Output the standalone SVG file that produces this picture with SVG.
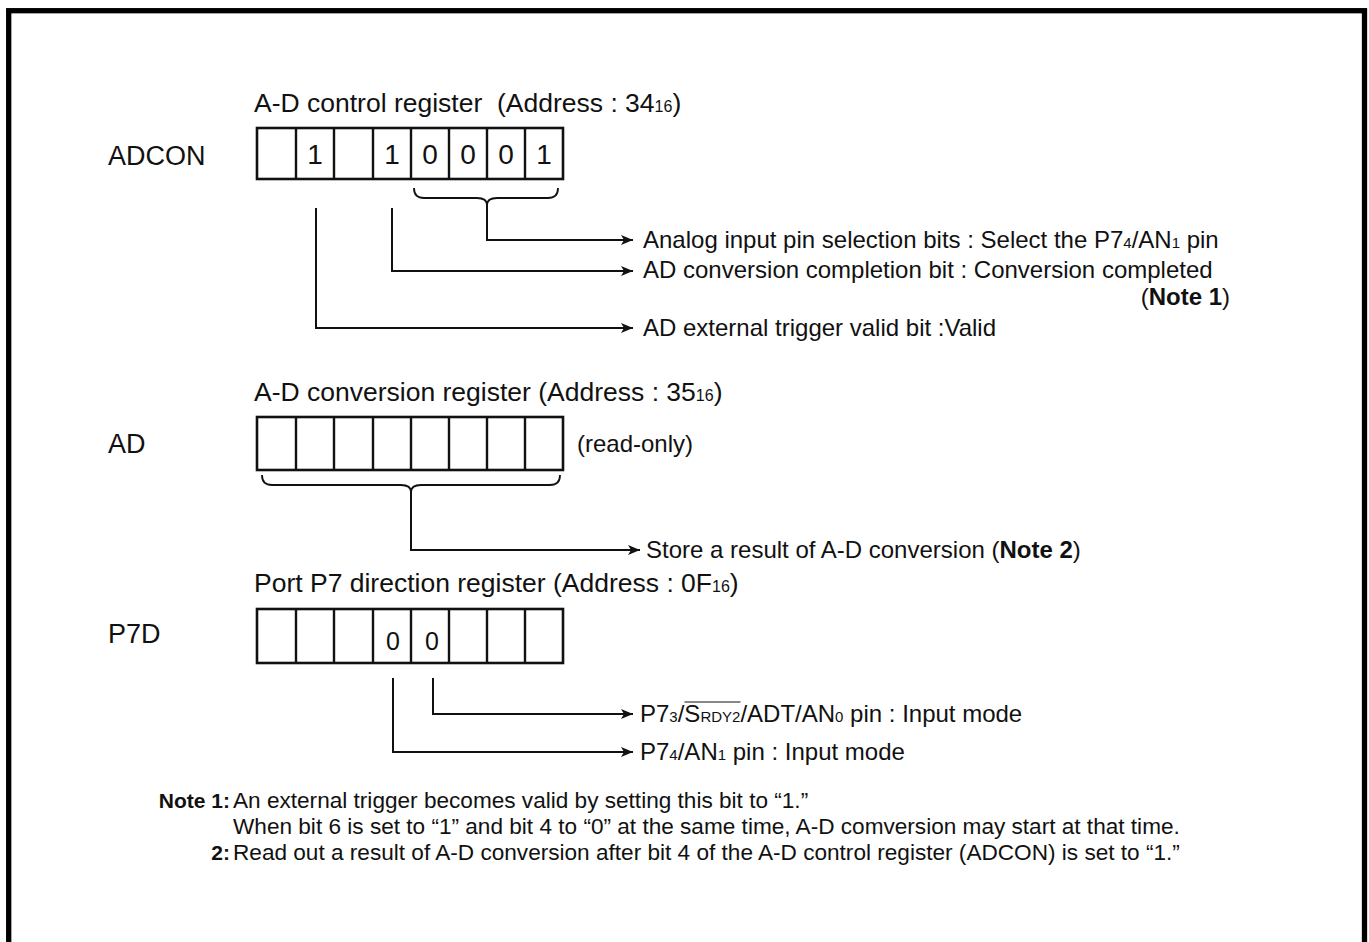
<svg xmlns="http://www.w3.org/2000/svg" width="1369" height="942" viewBox="0 0 1369 942">
<defs>
<style>
text{font-family:"Liberation Sans",Arial,sans-serif;fill:#111;}
.ttl{font-size:26.5px;}
.reg{font-size:27px;}
.lbl{font-size:24px;}
.sub{font-size:15px;}
.tsub{font-size:16px;}
.dig{font-size:28px;text-anchor:middle;}
.dig2{font-size:25px;text-anchor:middle;}
.note{font-size:22.6px;}
.nb{font-size:21px;font-weight:bold;}
.b{font-weight:bold;}
.cell{fill:#fff;stroke:#111;stroke-width:2.6;}
.div{stroke:#111;stroke-width:2.4;}
.con{fill:none;stroke:#111;stroke-width:2;}
.brace{fill:none;stroke:#111;stroke-width:1.8;}
</style>
<marker id="arr" markerUnits="userSpaceOnUse" markerWidth="13" markerHeight="11" refX="12" refY="5" orient="auto">
<path d="M0,0 L12,5 L0,10 L3,5 z" fill="#111"/>
</marker>
</defs>
<rect x="0" y="0" width="1369" height="942" fill="#fff"/>
<rect x="8.7" y="10.7" width="1355.8" height="1000" fill="none" stroke="#000" stroke-width="5.3"/>

<g id="adcon">
<text class="ttl" x="254" y="112" xml:space="preserve">A-D control register  (Address : 34<tspan class="tsub">16</tspan>)</text>
<text class="reg" x="108" y="165">ADCON</text>
<rect class="cell" x="257" y="128" width="306" height="51"/>
<path class="div" d="M296,128V179M334,128V179M373,128V179M411,128V179M449,128V179M487,128V179M525,128V179"/>
<text class="dig" x="315" y="164">1</text>
<text class="dig" x="392" y="164">1</text>
<text class="dig" x="430" y="164">0</text>
<text class="dig" x="468" y="164">0</text>
<text class="dig" x="506" y="164">0</text>
<text class="dig" x="544" y="164">1</text>
<path class="brace" d="M414,188 q0,10 10,10 h53 q10,0 10,7 q0,-7 10,-7 h51 q10,0 10,-10"/>
</g>

<g id="adcon-labels">
<text class="lbl" x="643" y="248">Analog input pin selection bits : Select the P7<tspan class="sub">4</tspan>/AN<tspan class="sub">1</tspan> pin</text>
<text class="lbl" x="643" y="278">AD conversion completion bit : Conversion completed</text>
<text class="lbl" x="1230" y="305" text-anchor="end">(<tspan class="b">Note 1</tspan>)</text>
<text class="lbl" x="643" y="336">AD external trigger valid bit :Valid</text>
</g>

<g id="ad">
<text class="ttl" x="254" y="401">A-D conversion register (Address : 35<tspan class="tsub">16</tspan>)</text>
<text class="reg" x="108" y="453">AD</text>
<rect class="cell" x="257" y="417" width="306" height="53"/>
<path class="div" d="M296,417V470M334,417V470M373,417V470M411,417V470M449,417V470M487,417V470M525,417V470"/>
<text class="lbl" x="577" y="452">(read-only)</text>
<path class="brace" d="M262,475 q0,10 10,10 h129 q10,0 10,7 q0,-7 10,-7 h129 q10,0 10,-10"/>
<text class="lbl" x="646" y="558">Store a result of A-D conversion (<tspan class="b">Note 2</tspan>)</text>
</g>

<g id="p7d">
<text class="ttl" x="254" y="592">Port P7 direction register (Address : 0F<tspan class="tsub">16</tspan>)</text>
<text class="reg" x="108" y="643">P7D</text>
<rect class="cell" x="257" y="609" width="306" height="54"/>
<path class="div" d="M296,609V663M334,609V663M373,609V663M411,609V663M449,609V663M487,609V663M525,609V663"/>
<text class="dig2" x="393" y="650">0</text>
<text class="dig2" x="432" y="650">0</text>
<text class="lbl" x="640" y="722">P7<tspan class="sub">3</tspan>/S<tspan class="sub">RDY2</tspan>/ADT/AN<tspan class="sub">0</tspan> pin : Input mode</text>
<line x1="684.5" y1="702" x2="740.5" y2="702" stroke="#111" stroke-width="1.2"/>
<text class="lbl" x="640" y="760">P7<tspan class="sub">4</tspan>/AN<tspan class="sub">1</tspan> pin : Input mode</text>
</g>

<g id="connectors">
<path class="con" d="M487,205 V240 H633" marker-end="url(#arr)"/>
<path class="con" d="M392,208 V271 H633" marker-end="url(#arr)"/>
<path class="con" d="M316,208 V328 H633" marker-end="url(#arr)"/>
<path class="con" d="M411,492 V550 H640" marker-end="url(#arr)"/>
<path class="con" d="M433,678 V714 H633" marker-end="url(#arr)"/>
<path class="con" d="M393,678 V752 H633" marker-end="url(#arr)"/>
</g>

<g id="notes">
<text class="nb" x="230" y="808" text-anchor="end">Note 1:</text>
<text class="note" x="233" y="808">An external trigger becomes valid by setting this bit to “1.”</text>
<text class="note" x="233" y="834">When bit 6 is set to “1” and bit 4 to “0” at the same time, A-D comversion may start at that time.</text>
<text class="nb" x="230" y="860" text-anchor="end">2:</text>
<text class="note" x="233" y="860">Read out a result of A-D conversion after bit 4 of the A-D control register (ADCON) is set to “1.”</text>
</g>
</svg>
